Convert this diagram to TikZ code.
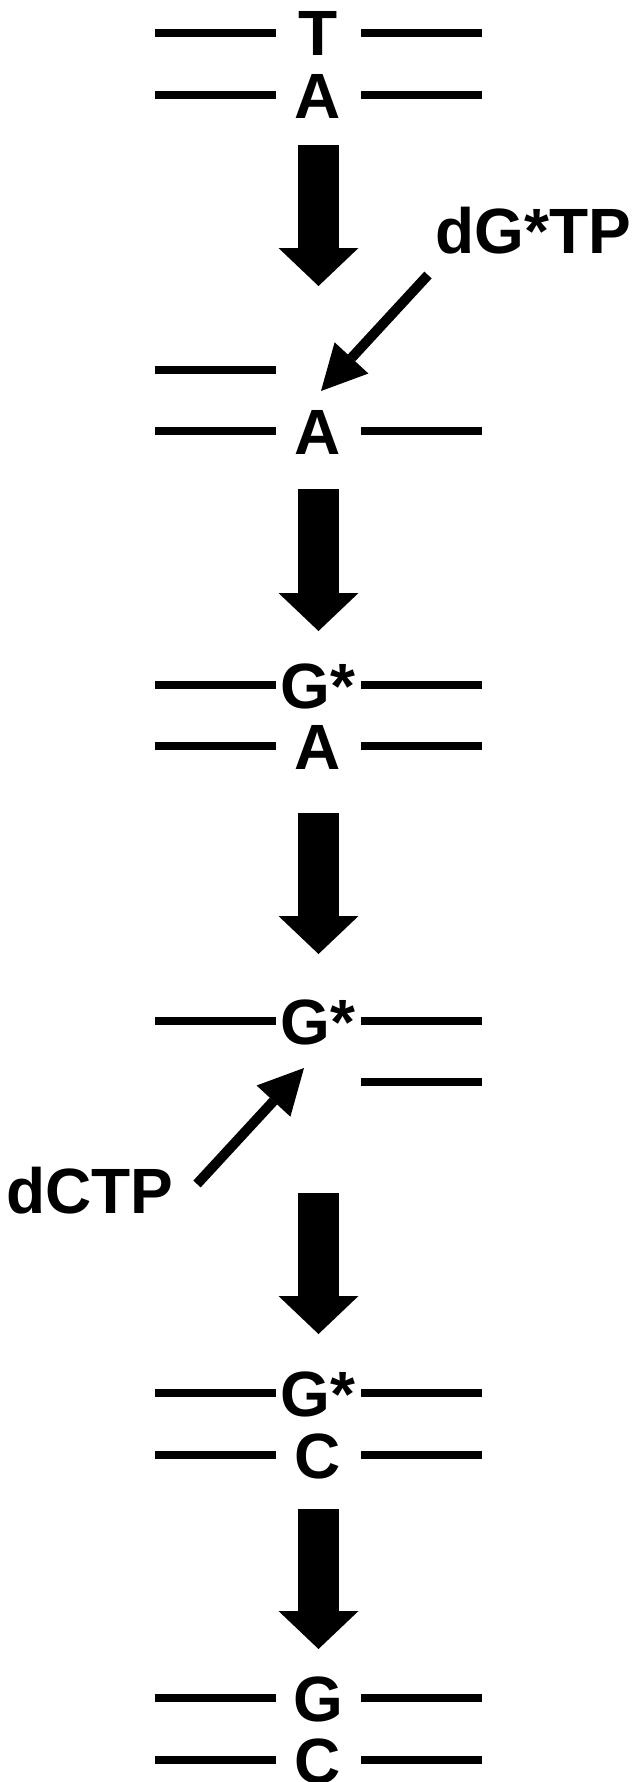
\documentclass[tikz,border=0pt]{standalone}
\usepackage{fontspec}
\setmainfont{Liberation Sans}
\usetikzlibrary{arrows.meta}

\tikzset{
    base/.style={font=\fontsize{64}{64}\selectfont\bfseries, inner sep=0pt, text height=46pt, text depth=0pt},
    strand/.style={line width=8pt},
    bigarrow/.style={line width=41pt, -{Triangle[width=80pt, length=38pt, line width=0pt]}},
    addarrow/.style={line width=10pt, -{Triangle[width=46pt, length=45pt, line width=0pt]}}
}

\begin{document}
\begin{tikzpicture}[x=1pt, y=-1pt]
    \useasboundingbox (0,0) rectangle (635,1782);

    \foreach \y in {33,95,370,431,685,746,1021,1393,1455,1698,1760}
        \draw[strand] (155,\y) -- (276,\y);
    \foreach \y in {33,95,431,685,746,1021,1082,1393,1455,1698,1760}
        \draw[strand] (361,\y) -- (482,\y);

    \node[base] (1t) at (318,33) {T};
    \node[base] (1b) at (318,95) {A};
    \node[base] (2b) at (318,431) {A};
    \node[base] (3t) at (318,685) {G*};
    \node[base] (3b) at (318,746) {A};
    \node[base] (4t) at (318,1021) {G*};
    \node[base] (5t) at (318,1393) {G*};
    \node[base] (5b) at (318,1455) {C};
    \node[base] (6t) at (318,1698) {G};
    \node[base] (6b) at (318,1760) {C};

    \node[base] (dgtp) at (533,230) {dG*TP};
    \node[base] (dctp) at (90,1190) {dCTP};

    \foreach \a/\b in {145/286, 489/631, 813/954, 1193/1334, 1509/1649}
        \draw[bigarrow] (318.5,\a) -- (318.5,\b);

    \coordinate (gtail) at (428,275);
    \coordinate (gtip) at (321,391);
    \coordinate (ctail) at (197,1184);
    \coordinate (ctip) at (304,1068);
    \draw[addarrow] (gtail) -- (gtip);
    \draw[addarrow] (ctail) -- (ctip);
\end{tikzpicture}
\end{document}
